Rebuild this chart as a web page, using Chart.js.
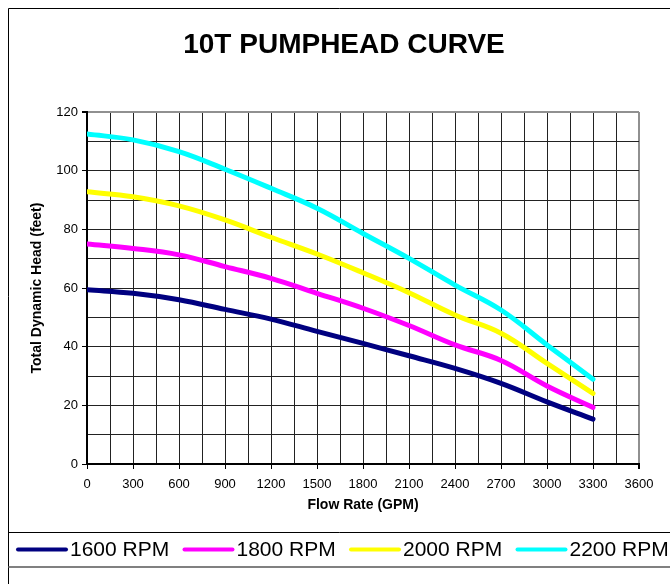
<!DOCTYPE html>
<html>
<head>
<meta charset="utf-8">
<title>10T Pumphead Curve</title>
<script src="https://cdn.jsdelivr.net/npm/chart.js@4/dist/chart.umd.min.js"></script>
<style>
  body { margin: 0; background: #fff; }
  #wrap { width: 670px; height: 584px; position: relative; }
</style>
</head>
<body>
<div id="wrap"><canvas id="pumpChart"></canvas></div>
<script>
// flow rate (GPM) where the curves were read
var flowRate = [0, 300, 600, 900, 1200, 1500, 1800, 2100, 2400, 2700, 3000, 3300];

// total dynamic head (feet) per speed
var rpm1600 = [59.4, 58.2, 56.0, 52.7, 49.4, 45.2, 41.1, 36.9, 32.6, 27.5, 21.2, 15.3];
var rpm1800 = [75.0, 73.5, 71.3, 67.3, 63.3, 58.2, 53.1, 47.2, 40.6, 35.3, 26.6, 19.3];
var rpm2000 = [92.8, 91.1, 88.0, 83.2, 77.3, 71.6, 65.2, 58.4, 50.8, 44.6, 34.3, 24.1];
var rpm2200 = [112.5, 110.5, 106.5, 100.5, 94.0, 87.2, 78.6, 70.1, 61.0, 52.5, 40.6, 28.9];

var seriesNames = ['1600 RPM', '1800 RPM', '2000 RPM', '2200 RPM'];
var seriesColors = ['#000080', '#FF00FF', '#FFFF00', '#00FFFF'];

var xMax = 3600, xStep = 150, xLabelStep = 300;
var yMax = 120, yStep = 10, yLabelStep = 20;

var FONT = '"Liberation Sans", Arial, sans-serif';

function toPoints(vals) {
  return vals.map(function(v, i) { return { x: flowRate[i], y: v }; });
}

var allSeries = [rpm1600, rpm1800, rpm2000, rpm2200];
var datasets = allSeries.map(function(vals, i) {
  return {
    label: seriesNames[i],
    data: toPoints(vals),
    borderColor: seriesColors[i],
    backgroundColor: seriesColors[i],
    borderWidth: 5,
    borderCapStyle: 'round',
    borderJoinStyle: 'round',
    pointRadius: 0,
    tension: 0.4,
    fill: false
  };
});

// frame, title and the boxed legend under the plot
var decorPlugin = {
  id: 'decor',
  afterDraw: function(chart) {
    var ctx = chart.ctx;
    ctx.save();

    // outer frame
    ctx.strokeStyle = '#000';
    ctx.lineWidth = 1;
    ctx.beginPath();
    ctx.moveTo(8.5, 584);
    ctx.lineTo(8.5, 8.5);
    ctx.lineTo(670, 8.5);
    ctx.stroke();

    // title
    ctx.fillStyle = '#000';
    ctx.font = 'bold 28px ' + FONT;
    ctx.textAlign = 'center';
    ctx.textBaseline = 'middle';
    ctx.fillText('10T PUMPHEAD CURVE', 344, 45);

    // legend box
    ctx.strokeStyle = '#000';
    ctx.beginPath();
    ctx.moveTo(8.5, 532.5);
    ctx.lineTo(670, 532.5);
    ctx.stroke();
    ctx.strokeStyle = '#808080';
    ctx.lineWidth = 2;
    ctx.beginPath();
    ctx.moveTo(8.5, 567);
    ctx.lineTo(670, 567);
    ctx.stroke();

    ctx.font = '21px ' + FONT;
    ctx.textAlign = 'left';
    ctx.textBaseline = 'middle';
    chart.data.datasets.forEach(function(ds, i) {
      var x0 = 16 + i * 166.5;
      ctx.strokeStyle = ds.borderColor;
      ctx.lineWidth = 4;
      ctx.lineCap = 'round';
      ctx.beginPath();
      ctx.moveTo(x0 + 2, 549.5);
      ctx.lineTo(x0 + 50, 549.5);
      ctx.stroke();
      ctx.fillStyle = '#000';
      ctx.fillText(ds.label, x0 + 54, 550);
    });

    ctx.restore();
  }
};

var ctx = document.getElementById('pumpChart').getContext('2d');
var pumpChart = new Chart(ctx, {
  type: 'line',
  data: { datasets: datasets },
  plugins: [decorPlugin],
  options: {
    responsive: true,
    maintainAspectRatio: false,
    animation: false,
    layout: { padding: { left: 25, right: 31, top: 112, bottom: 66 } },
    plugins: {
      legend: { display: false },
      title: { display: false },
      tooltip: { enabled: false }
    },
    scales: {
      x: {
        type: 'linear',
        min: 0,
        max: xMax,
        afterFit: function(scale) { scale.height = 54; },
        border: { display: true, color: '#000', width: 2 },
        grid: {
          drawTicks: true,
          tickLength: 5,
          color: function(c) { return c.tick && c.tick.value === xMax ? '#909090' : '#222'; },
          lineWidth: function(c) { return c.tick && c.tick.value === xMax ? 2 : 1; },
          tickColor: function(c) { return c.tick && c.tick.value % xLabelStep === 0 ? '#000' : 'rgba(0,0,0,0)'; }
        },
        ticks: {
          stepSize: xStep,
          autoSkip: false,
          maxRotation: 0,
          padding: 8,
          color: '#000',
          font: { family: FONT, size: 13 },
          callback: function(v) { return v % xLabelStep === 0 ? String(v) : ''; }
        },
        title: {
          display: true,
          text: 'Flow Rate (GPM)',
          color: '#000',
          font: { family: FONT, size: 14, weight: 'bold' },
          padding: { top: 4, bottom: 4 }
        }
      },
      y: {
        min: 0,
        max: yMax,
        afterFit: function(scale) { scale.width = 62; },
        border: { display: true, color: '#000', width: 2 },
        grid: {
          drawTicks: true,
          tickLength: 5,
          color: function(c) { return c.tick && c.tick.value === yMax ? '#909090' : '#222'; },
          lineWidth: function(c) { return c.tick && c.tick.value === yMax ? 2 : 1; },
          tickColor: function(c) { return c.tick && c.tick.value % yLabelStep === 0 ? '#000' : 'rgba(0,0,0,0)'; }
        },
        ticks: {
          stepSize: yStep,
          autoSkip: false,
          padding: 4,
          color: '#000',
          font: { family: FONT, size: 13 },
          callback: function(v) { return v % yLabelStep === 0 ? String(v) : ''; }
        },
        title: {
          display: true,
          text: 'Total Dynamic Head (feet)',
          color: '#000',
          font: { family: FONT, size: 14, weight: 'bold' },
          padding: { top: 4, bottom: 4 }
        }
      }
    }
  }
});
</script>
</body>
</html>
